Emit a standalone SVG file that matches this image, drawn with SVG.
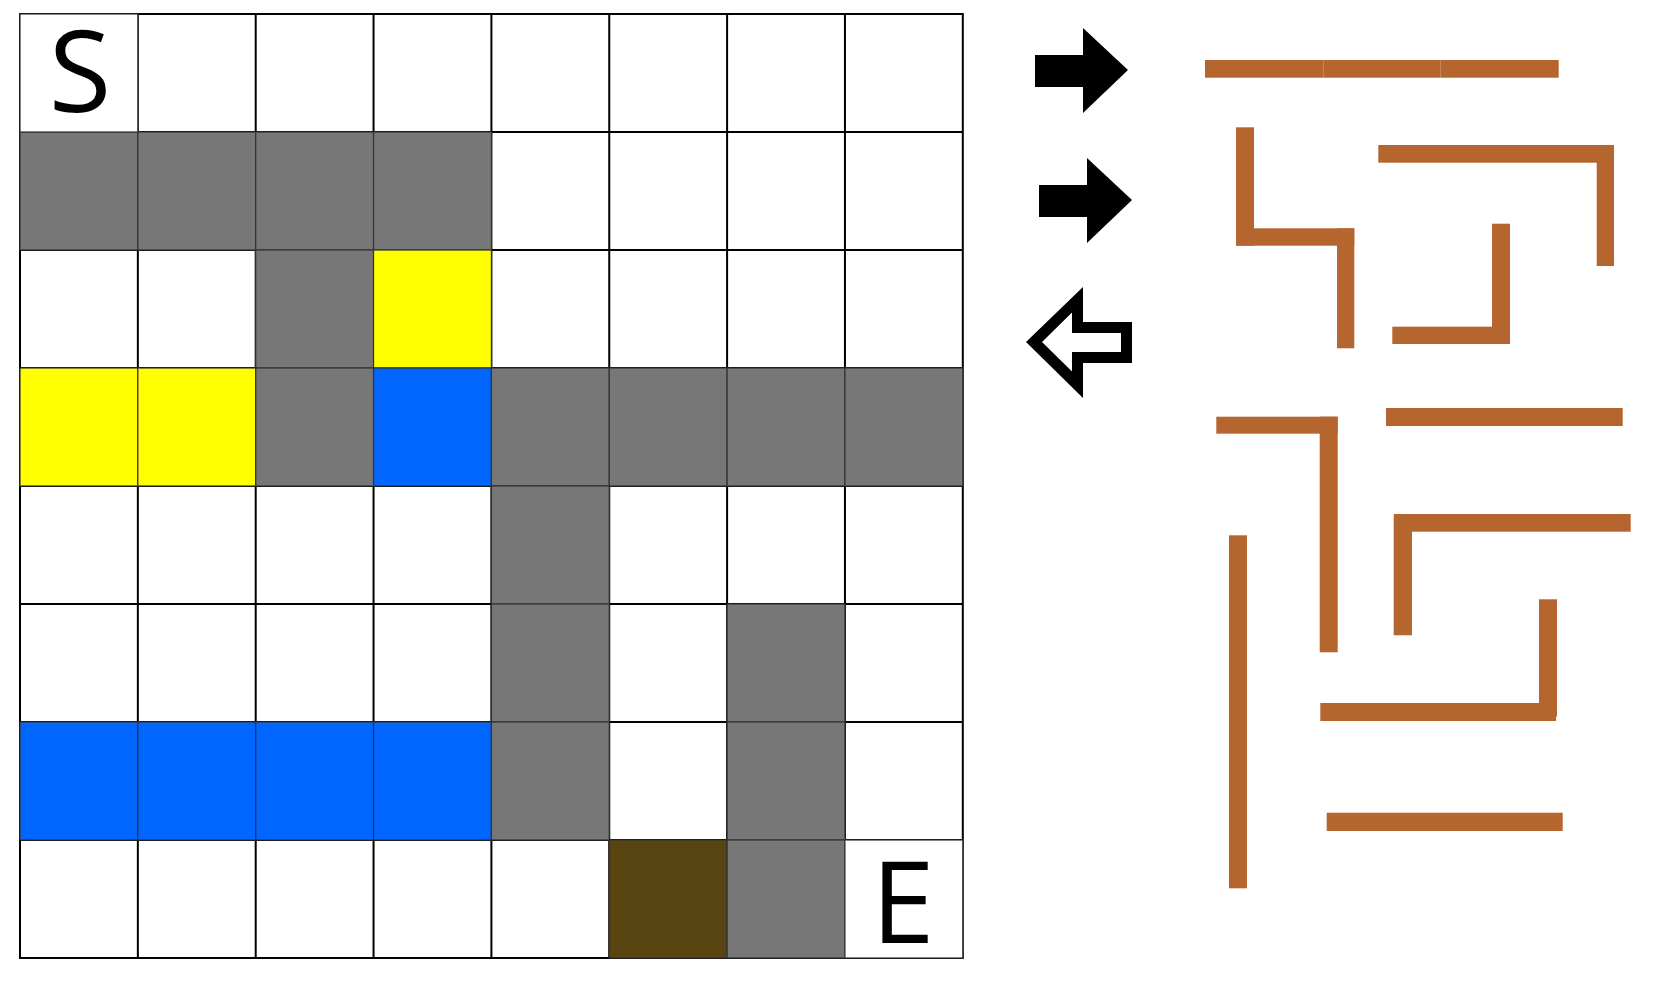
<svg xmlns="http://www.w3.org/2000/svg" width="1671" height="983" viewBox="0 0 1671 983">
<style>
.gl{stroke:#000;stroke-width:2;fill:none}
.cell{stroke:#333;stroke-width:1.2}
.gray{fill:#777777}
.yel{fill:#FFFF00}
.blu{fill:#0066FF}
.brn{fill:#584410}
.wht{fill:#FFFFFF}
.bar{fill:#B5652E}
.lbl{font-family:"Open Sans","Noto Sans",sans-serif;font-weight:400;font-size:114px;fill:#000;text-anchor:middle}
</style>
<rect x="0" y="0" width="1671" height="983" fill="#fff"/>
<g id="grid-lines">
<rect class="gl" x="20" y="14" width="942.8" height="944"/>
<path class="gl" d="M137.85,14V958M255.7,14V958M373.55,14V958M491.4,14V958M609.25,14V958M727.1,14V958M844.95,14V958M20,132H962.8M20,250H962.8M20,368H962.8M20,486H962.8M20,604H962.8M20,722H962.8M20,840H962.8"/>
</g>
<g id="cells">
<g id="row1">
<rect class="cell gray" x="20" y="132" width="117.85" height="118"/>
<rect class="cell gray" x="137.85" y="132" width="117.85" height="118"/>
<rect class="cell gray" x="255.7" y="132" width="117.85" height="118"/>
<rect class="cell gray" x="373.55" y="132" width="117.85" height="118"/>
</g>
<g id="row2">
<rect class="cell gray" x="255.7" y="250" width="117.85" height="118"/>
<rect class="cell yel" x="373.55" y="250" width="117.85" height="118"/>
</g>
<g id="row3">
<rect class="cell yel" x="20" y="368" width="117.85" height="118"/>
<rect class="cell yel" x="137.85" y="368" width="117.85" height="118"/>
<rect class="cell gray" x="255.7" y="368" width="117.85" height="118"/>
<rect class="cell blu" x="373.55" y="368" width="117.85" height="118"/>
<rect class="cell gray" x="491.4" y="368" width="117.85" height="118"/>
<rect class="cell gray" x="609.25" y="368" width="117.85" height="118"/>
<rect class="cell gray" x="727.1" y="368" width="117.85" height="118"/>
<rect class="cell gray" x="844.95" y="368" width="117.85" height="118"/>
</g>
<g id="row4">
<rect class="cell gray" x="491.4" y="486" width="117.85" height="118"/>
</g>
<g id="row5">
<rect class="cell gray" x="491.4" y="604" width="117.85" height="118"/>
<rect class="cell gray" x="727.1" y="604" width="117.85" height="118"/>
</g>
<g id="row6">
<rect class="cell blu" x="20" y="722" width="117.85" height="118"/>
<rect class="cell blu" x="137.85" y="722" width="117.85" height="118"/>
<rect class="cell blu" x="255.7" y="722" width="117.85" height="118"/>
<rect class="cell blu" x="373.55" y="722" width="117.85" height="118"/>
<rect class="cell gray" x="491.4" y="722" width="117.85" height="118"/>
<rect class="cell gray" x="727.1" y="722" width="117.85" height="118"/>
</g>
<g id="row7">
<rect class="cell brn" x="609.25" y="840" width="117.85" height="118"/>
<rect class="cell gray" x="727.1" y="840" width="117.85" height="118"/>
</g>
</g>
<g id="cell-S">
<rect class="cell wht" x="20" y="14" width="117.85" height="118"/>
<text class="lbl" x="80" y="112">S</text>
</g>
<g id="cell-E">
<rect class="cell wht" x="844.95" y="840" width="117.85" height="118"/>
<text class="lbl" x="903" y="943">E</text>
</g>
<g id="arrow-right-1">
<path d="M1035,55H1083V28L1128,70L1083,113V87H1035Z" fill="#000"/>
</g>
<g id="arrow-right-2">
<path d="M1039,185H1087V158L1132,200L1087,243V217H1039Z" fill="#000"/>
</g>
<g id="arrow-left-outline">
<path fill-rule="evenodd" fill="#000" d="M1026,342L1083,287V322H1132V363H1083V398Z M1042,342L1072,312.5V333H1121V352H1072V371.5Z"/>
</g>
<g id="walls">
<g id="wall-1">
<rect class="bar" x="1205" y="60" width="118.3" height="17.7"/>
<rect class="bar" x="1323.3" y="60" width="117.4" height="17.7"/>
<rect class="bar" x="1440.7" y="60" width="118" height="17.7"/>
</g>
<g id="wall-2">
<rect class="bar" x="1236" y="127.3" width="18" height="118.4"/>
<rect class="bar" x="1236" y="228.3" width="118.3" height="17.4"/>
<rect class="bar" x="1337" y="228.3" width="17.3" height="120"/>
</g>
<g id="wall-3">
<rect class="bar" x="1378.3" y="145" width="235.7" height="17.7"/>
<rect class="bar" x="1596.7" y="145" width="17.3" height="121"/>
</g>
<g id="wall-4">
<rect class="bar" x="1492" y="223.7" width="18" height="120.3"/>
<rect class="bar" x="1392.3" y="326.7" width="117.7" height="17.3"/>
</g>
<g id="wall-5">
<rect class="bar" x="1216.3" y="416.7" width="121.4" height="17"/>
<rect class="bar" x="1319.7" y="416.7" width="18" height="235.6"/>
</g>
<g id="wall-6">
<rect class="bar" x="1386" y="408" width="236.7" height="18"/>
</g>
<g id="wall-7">
<rect class="bar" x="1394.7" y="514" width="236" height="17.7"/>
<rect class="bar" x="1393.7" y="514" width="18.3" height="121.3"/>
</g>
<g id="wall-8">
<rect class="bar" x="1229" y="535.3" width="18" height="117.7"/>
<rect class="bar" x="1229" y="653" width="18" height="118"/>
<rect class="bar" x="1229" y="771" width="18" height="117.3"/>
</g>
<g id="wall-9">
<rect class="bar" x="1539" y="599.3" width="18" height="117.4"/>
<rect class="bar" x="1320.3" y="703" width="235.7" height="18"/>
</g>
<g id="wall-10">
<rect class="bar" x="1326.7" y="812.7" width="236" height="18.3"/>
</g>
</g>
</svg>
